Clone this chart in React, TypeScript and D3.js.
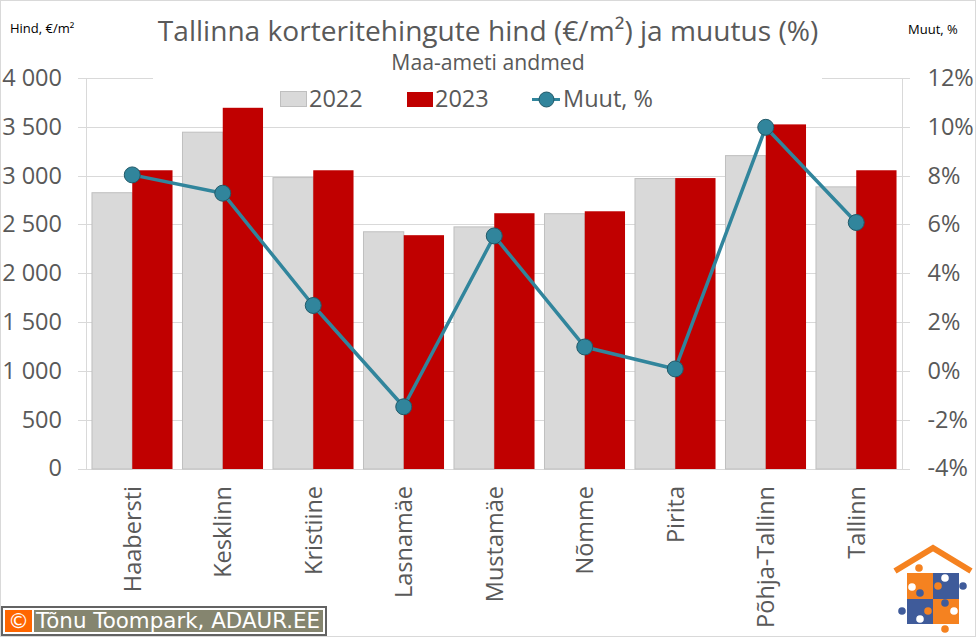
import React, { useEffect, useRef } from 'react';
import * as d3 from 'd3';

const districts = ['Haabersti', 'Kesklinn', 'Kristiine', 'Lasnamäe', 'Mustamäe', 'Nõmme', 'Pirita', 'Põhja-Tallinn', 'Tallinn'];
const price2022 = [2830, 3450, 2985, 2430, 2480, 2615, 2975, 3210, 2890];
const price2023 = [3060, 3700, 3060, 2395, 2620, 2640, 2980, 3530, 3060];
const change = [8.05, 7.3, 2.7, -1.45, 5.55, 1.0, 0.1, 10.0, 6.1];
const priceTicks = [0, 500, 1000, 1500, 2000, 2500, 3000, 3500, 4000];
const changeTicks = [-4, -2, 0, 2, 4, 6, 8, 10, 12];

const width = 976;
const height = 637;
const FONT = '"Open Sans", "Noto Sans", sans-serif';
const GREY = '#595959';
const TEAL = '#31859c';
const RED = '#c00000';

const App: React.FC = () => {
  const svgRef = useRef<SVGSVGElement>(null);

  useEffect(() => {
    if (!svgRef.current) return;
    const svg = d3.select(svgRef.current);
    svg.selectAll('*').remove();

    const margin = { top: 78.5, right: 74.5, bottom: 168, left: 87 };
    const xScale = d3.scaleBand().domain(districts).range([margin.left, width - margin.right]).paddingInner(0.11).paddingOuter(0.055);
    const yPrice = d3.scaleLinear().domain([0, 4000]).range([height - margin.bottom, margin.top]);
    const yChange = d3.scaleLinear().domain([-4, 12]).range([height - margin.bottom, margin.top]);
    const crisp = (v: number) => Math.floor(v) + 0.5;

    svg.append('rect').attr('x', 0.5).attr('y', 0.5).attr('width', width - 1).attr('height', height - 1)
      .attr('fill', '#fff').attr('stroke', '#d9d9d9');

    // grid + axes
    const grid = svg.append('g').attr('stroke', '#d9d9d9').attr('stroke-width', 1);
    priceTicks.forEach(t => {
      grid.append('line').attr('x1', 78).attr('x2', 910).attr('y1', crisp(yPrice(t))).attr('y2', crisp(yPrice(t)));
    });
    grid.append('line').attr('x1', 86.5).attr('x2', 86.5).attr('y1', margin.top).attr('y2', yPrice(0));
    grid.append('line').attr('x1', 902.5).attr('x2', 902.5).attr('y1', margin.top).attr('y2', yPrice(0));

    // bars
    const barW = xScale.bandwidth() / 2;
    svg.append('g').selectAll('rect').data(price2022).enter().append('rect')
      .attr('x', (_, i) => xScale(districts[i])!)
      .attr('y', d => yPrice(d))
      .attr('width', barW)
      .attr('height', d => yPrice(0) - yPrice(d))
      .attr('fill', '#d9d9d9').attr('stroke', '#bfbfbf');
    svg.append('g').selectAll('rect').data(price2023).enter().append('rect')
      .attr('x', (_, i) => xScale(districts[i])! + barW)
      .attr('y', d => yPrice(d))
      .attr('width', barW)
      .attr('height', d => yPrice(0) - yPrice(d))
      .attr('fill', RED);

    // line
    const cx = (i: number) => xScale(districts[i])! + barW;
    const line = d3.line<number>().x((_, i) => cx(i)).y(d => yChange(d));
    svg.append('path').datum(change).attr('d', line).attr('fill', 'none').attr('stroke', TEAL).attr('stroke-width', 3.5).attr('stroke-linejoin', 'round');
    svg.append('g').selectAll('circle').data(change).enter().append('circle')
      .attr('cx', (_, i) => cx(i)).attr('cy', d => yChange(d)).attr('r', 8)
      .attr('fill', TEAL).attr('stroke', '#215968').attr('stroke-width', 1);

    // subtitle covers the top gridline
    svg.append('rect').attr('x', 153).attr('y', 70).attr('width', 669).attr('height', 16).attr('fill', '#fff');

    // tick labels
    const fmt = (t: number) => d3.format(',')(t).replace(',', ' ');
    svg.append('g').selectAll('text').data(priceTicks).enter().append('text')
      .attr('x', 62).attr('y', d => yPrice(d) - 1).attr('dy', '0.36em').attr('text-anchor', 'end')
      .attr('font-family', FONT).attr('font-size', 23.5).attr('fill', GREY).text(d => fmt(d));
    svg.append('g').selectAll('text').data(changeTicks).enter().append('text')
      .attr('x', 927.5).attr('y', d => yChange(d) - 1).attr('dy', '0.36em')
      .attr('font-family', FONT).attr('font-size', 23.5).attr('fill', GREY).text(d => `${d}%`);

    svg.append('g').selectAll('text').data(districts).enter().append('text')
      .attr('transform', d => `translate(${xScale(d)! + barW + 8.5},486) rotate(-90)`)
      .attr('text-anchor', 'end')
      .attr('font-family', FONT).attr('font-size', 23.5).attr('fill', GREY).text(d => d);

    // titles
    svg.append('text').attr('x', 488).attr('y', 41).attr('text-anchor', 'middle')
      .attr('font-family', FONT).attr('font-size', 28.1).attr('fill', GREY).text('Tallinna korteritehingute hind (€/m²) ja muutus (%)');
    svg.append('text').attr('x', 488).attr('y', 70).attr('text-anchor', 'middle')
      .attr('font-family', FONT).attr('font-size', 21.2).attr('fill', GREY).text('Maa-ameti andmed');
    svg.append('text').attr('x', 10).attr('y', 33).attr('font-family', FONT).attr('font-size', 13).attr('fill', '#000').text('Hind, €/m²');
    svg.append('text').attr('x', 908).attr('y', 34).attr('font-family', FONT).attr('font-size', 13).attr('fill', '#000').text('Muut, %');

    // legend
    const legend = svg.append('g').attr('font-family', FONT).attr('font-size', 23.5).attr('fill', GREY);
    legend.append('rect').attr('x', 280.5).attr('y', 91.5).attr('width', 26).attr('height', 15).attr('fill', '#d9d9d9').attr('stroke', '#bfbfbf');
    legend.append('text').attr('x', 309).attr('y', 107).text('2022');
    legend.append('rect').attr('x', 407).attr('y', 92).attr('width', 26).attr('height', 15).attr('fill', RED);
    legend.append('text').attr('x', 435).attr('y', 107).text('2023');
    legend.append('line').attr('x1', 532).attr('x2', 560).attr('y1', 99.5).attr('y2', 99.5).attr('stroke', TEAL).attr('stroke-width', 3);
    legend.append('circle').attr('cx', 546.5).attr('cy', 99.5).attr('r', 7.5).attr('fill', TEAL).attr('stroke', '#215968');
    legend.append('text').attr('x', 563).attr('y', 107).text('Muut, %');

    // copyright badge
    const badge = svg.append('g');
    badge.append('rect').attr('x', 2).attr('y', 607).attr('width', 324).attr('height', 28).attr('fill', '#fff').attr('stroke', '#636363').attr('stroke-width', 2);
    badge.append('rect').attr('x', 5).attr('y', 610).attr('width', 27).attr('height', 22).attr('fill', '#ff6600');
    badge.append('rect').attr('x', 34).attr('y', 610).attr('width', 289).attr('height', 22).attr('fill', '#85856f');
    badge.append('text').attr('x', 18.5).attr('y', 628).attr('text-anchor', 'middle').attr('font-family', 'DejaVu Sans').attr('font-size', 21).attr('fill', '#fff').text('©');
    badge.append('text').attr('x', 36).attr('y', 628).attr('font-family', 'DejaVu Sans').attr('font-size', 21.4).attr('fill', '#fff').text('Tõnu Toompark, ADAUR.EE');

    // logo
    const logo = svg.append('g').attr('transform', 'translate(876,530)');
    const ORANGE = '#f58220';
    const BLUE = '#3f5b9a';
    logo.append('path').attr('d', 'M19 41 L57 18 L95 41').attr('fill', 'none').attr('stroke', ORANGE).attr('stroke-width', 6);
    logo.append('rect').attr('x', 31).attr('y', 43).attr('width', 26).attr('height', 26).attr('fill', ORANGE);
    logo.append('rect').attr('x', 57).attr('y', 43).attr('width', 26).attr('height', 26).attr('fill', BLUE);
    logo.append('rect').attr('x', 31).attr('y', 69).attr('width', 26).attr('height', 25).attr('fill', BLUE);
    logo.append('rect').attr('x', 57).attr('y', 69).attr('width', 26).attr('height', 25).attr('fill', ORANGE);
    const knobs: [number, number, string][] = [
      [43, 38, ORANGE], [87, 56, BLUE], [69, 99, ORANGE], [26, 81, BLUE],
      [62, 56, ORANGE], [44, 63, BLUE], [52, 81, ORANGE], [69, 73, BLUE],
      [69, 48, '#fff'], [36, 57, '#fff'], [44, 89, '#fff'], [78, 81, '#fff'],
    ];
    knobs.forEach(([x, y, c]) => logo.append('circle').attr('cx', x).attr('cy', y).attr('r', 3.8).attr('fill', c));
  }, []);

  return <svg ref={svgRef} width={width} height={height} style={{ position: 'absolute', left: 0, top: 0 }} />;
};

export default App;
